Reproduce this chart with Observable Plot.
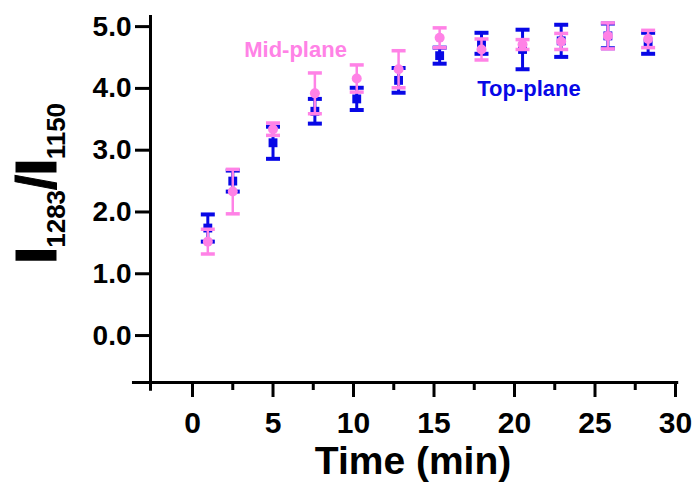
<!DOCTYPE html>
<html>
<head>
<meta charset="utf-8">
<script src="https://cdn.jsdelivr.net/npm/d3@7"></script>
<script src="https://cdn.jsdelivr.net/npm/@observablehq/plot@0.6"></script>
<style>
  html, body { margin: 0; padding: 0; background: #fff; }
  #chart svg { display: block; }
</style>
</head>
<body>
<div id="chart"></div>
<script>
// ---- data ----
const times    = [0.95, 2.5, 5.0, 7.6, 10.2, 12.8, 15.35, 17.95, 20.5, 22.9, 25.8, 28.3];
const midMean  = [1.52, 2.33, 3.34, 3.92, 4.16, 4.31, 4.82, 4.63, 4.71, 4.76, 4.85, 4.80];
const midErr   = [0.20, 0.36, 0.10, 0.33, 0.22, 0.30, 0.16, 0.17, 0.08, 0.13, 0.21, 0.14];
const topMean  = [1.74, 2.50, 3.12, 3.63, 3.83, 4.13, 4.53, 4.73, 4.63, 4.77, 4.85, 4.73];
const topErr   = [0.22, 0.17, 0.26, 0.20, 0.18, 0.20, 0.13, 0.17, 0.32, 0.26, 0.20, 0.17];
const xTicks      = [0, 5, 10, 15, 20, 25, 30];
const xMinorTicks = [2.5, 7.5, 12.5, 17.5, 22.5, 27.5];
const yTicks      = [0, 1, 2, 3, 4, 5];
const seriesNames = ["Mid-plane", "Top-plane"];
const labelPos    = [{x: 6.4, y: 4.51}, {x: 20.9, y: 3.88}];

const PINK = "#ff82e6";
const BLUE = "#0808e6";
const FONT = "'Liberation Sans', Arial, Helvetica, sans-serif";

const midData = times.map((t, i) => ({t, m: midMean[i], lo: midMean[i] - midErr[i], hi: midMean[i] + midErr[i]}));
const topData = times.map((t, i) => ({t, m: topMean[i], lo: topMean[i] - topErr[i], hi: topMean[i] + topErr[i]}));
const caps = (d) => d.flatMap(p => [{t: p.t, v: p.lo}, {t: p.t, v: p.hi}]);
const labels = seriesNames.map((s, i) => ({name: s, ...labelPos[i], color: i === 0 ? PINK : BLUE}));

// horizontal line symbol for error-bar caps
const capSymbol = {
  draw(ctx, size) {
    const r = Math.sqrt(size / Math.PI);
    ctx.moveTo(-r, 0);
    ctx.lineTo(r, 0);
  }
};

const xDomain = [-2.61, 30];
const yDomain = [-0.76, 5.18];

const plot = Plot.plot({
  width: 694,
  height: 485,
  marginLeft: 150,
  marginRight: 19,
  marginTop: 15,
  marginBottom: 103,
  style: {fontFamily: FONT, background: "#fff", overflow: "visible"},
  x: {domain: xDomain},
  y: {domain: yDomain},
  marks: [
    // axis lines (crossing, Prism style)
    Plot.ruleY([yDomain[0]], {x1: -3.73, x2: 30.2, stroke: "#000", strokeWidth: 3}),
    Plot.ruleX([xDomain[0]], {y1: -0.9, y2: yDomain[1], stroke: "#000", strokeWidth: 3}),
    Plot.axisX({ticks: xTicks, tickSize: 15, tickPadding: 14, strokeWidth: 3,
      fontSize: 30, fontWeight: "bold", fill: "#000", label: null, tickFormat: d => d}),
    Plot.axisX({ticks: xMinorTicks, tickSize: 8, strokeWidth: 3, text: null, label: null}),
    Plot.axisY({ticks: yTicks, tickSize: 15, tickPadding: 4, strokeWidth: 3,
      fontSize: 28, fontWeight: "bold", fill: "#000", label: null, tickFormat: d3.format(".1f")}),

    // Top-plane (blue squares)
    Plot.ruleX(topData, {x: "t", y1: "lo", y2: "hi", stroke: BLUE, strokeWidth: 3}),
    Plot.dot(caps(topData), {x: "t", y: "v", symbol: capSymbol, r: 7, stroke: BLUE, strokeWidth: 4, fill: "none"}),
    Plot.dot(topData, {x: "t", y: "m", symbol: "square", r: 5, fill: BLUE, stroke: "none"}),

    // Mid-plane (pink circles)
    Plot.ruleX(midData, {x: "t", y1: "lo", y2: "hi", stroke: PINK, strokeWidth: 2.5}),
    Plot.dot(caps(midData), {x: "t", y: "v", symbol: capSymbol, r: 7, stroke: PINK, strokeWidth: 3.5, fill: "none"}),
    Plot.dot(midData, {x: "t", y: "m", symbol: "circle", r: 5, fill: PINK, stroke: "none"}),

    // series labels
    Plot.text(labels, {x: "x", y: "y", text: "name", fill: "color", fontSize: 22, fontWeight: "bold",
      textAnchor: "middle", lineAnchor: "bottom"})
  ]
});

const svg = d3.select(plot);
// x-axis title
svg.append("text")
  .attr("x", 413).attr("y", 474)
  .attr("text-anchor", "middle")
  .attr("font-family", FONT).attr("font-weight", "bold").attr("font-size", 39)
  .attr("fill", "#000")
  .text("Time (min)");
// y-axis title with subscripts
const yt = svg.append("text")
  .attr("transform", "translate(55,183) rotate(-90)")
  .attr("text-anchor", "middle")
  .attr("font-family", FONT).attr("font-weight", "bold")
  .attr("fill", "#000").attr("stroke", "#000").attr("stroke-width", 0);
yt.append("tspan").attr("font-size", 55).attr("stroke-width", 3).text("I");
yt.append("tspan").attr("font-size", 26).attr("dy", 10).text("1283");
yt.append("tspan").attr("font-size", 55).attr("dy", -10).attr("stroke-width", 1).text("/");
yt.append("tspan").attr("font-size", 55).attr("stroke-width", 3).text("I");
yt.append("tspan").attr("font-size", 26).attr("dy", 10).text("1150");

document.getElementById("chart").appendChild(plot);
</script>
</body>
</html>
